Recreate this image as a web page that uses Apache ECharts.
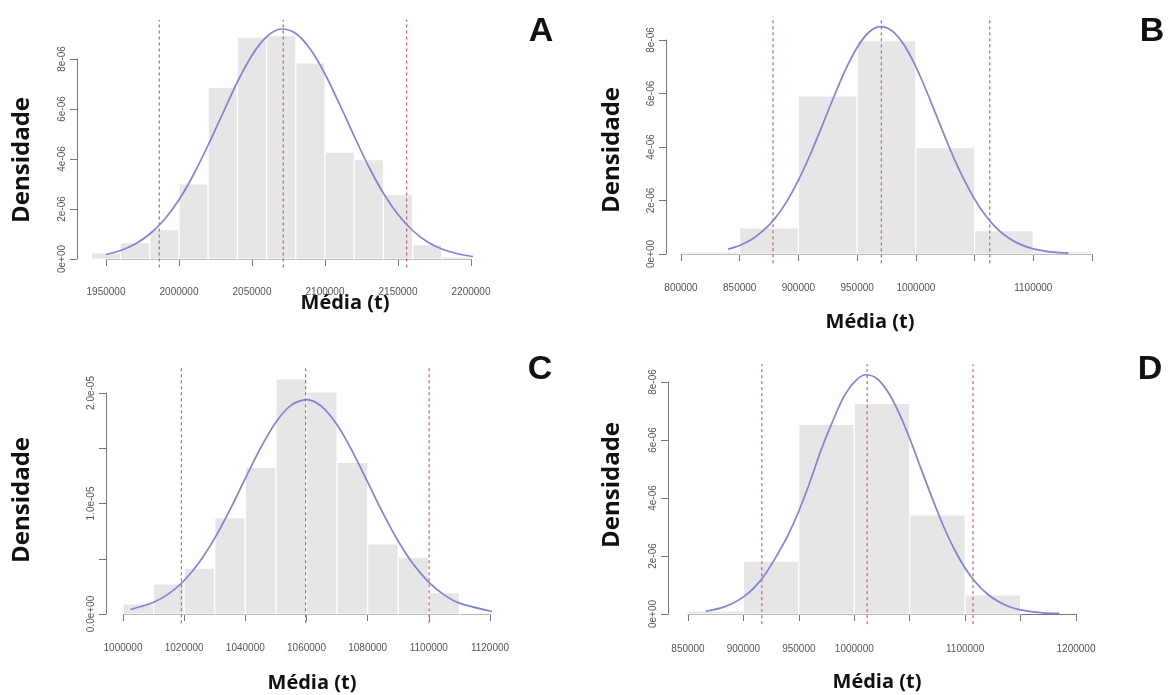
<!DOCTYPE html>
<html style="height: 100%">
<head>
    <meta charset="utf-8">
</head>
<body style="height: 100%; margin: 0; background: #fff">
    <div id="container" style="width: 1172px; height: 695px"></div>
    <script src="https://cdn.jsdelivr.net/npm/echarts@6.0.0/dist/echarts.min.js"></script>
    <script type="text/javascript">
        // ---- data ----
        // histogram bin edges and densities (A)
        var breaksA = [1940000, 1960000, 1980000, 2000000, 2020000, 2040000, 2060000, 2080000, 2100000, 2120000, 2140000, 2160000, 2180000, 2200000];
        var densA = [0.24e-6, 0.65e-6, 1.17e-6, 3.0e-6, 6.87e-6, 8.87e-6, 8.93e-6, 7.84e-6, 4.27e-6, 3.97e-6, 2.57e-6, 0.57e-6, 0.08e-6];
        var curveXA = [1950000, 1960000, 1970000, 1980000, 1990000, 2000000, 2010000, 2020000, 2030000, 2040000, 2050000, 2060000, 2070000, 2080000, 2090000, 2100000, 2110000, 2120000, 2130000, 2140000, 2150000, 2160000, 2170000, 2180000, 2190000, 2200000, 2212000];
        var curveYA = [0.18e-6, 0.34e-6, 0.6e-6, 1.0e-6, 1.58e-6, 2.37e-6, 3.38e-6, 4.56e-6, 5.83e-6, 7.08e-6, 8.15e-6, 8.89e-6, 9.2e-6, 9.02e-6, 8.39e-6, 7.4e-6, 6.19e-6, 4.91e-6, 3.69e-6, 2.63e-6, 1.78e-6, 1.14e-6, 0.69e-6, 0.4e-6, 0.22e-6, 0.11e-6, 0.05e-6];
        var cutsA = [1986500, 2071400, 2155900];
        var xLabelsA = ['1950000', '2000000', '2050000', '2100000', '2150000', '2200000'];
        var yLabelsA = ['0e+00', '2e-06', '4e-06', '6e-06', '8e-06'];

        // (B)
        var breaksB = [800000, 850000, 900000, 950000, 1000000, 1050000, 1100000, 1150000];
        var densB = [0.08e-6, 0.98e-6, 5.91e-6, 7.98e-6, 3.98e-6, 0.87e-6, 0.09e-6];
        var curveXB = [840000, 850000, 860000, 870000, 880000, 890000, 900000, 910000, 920000, 930000, 940000, 950000, 960000, 970000, 980000, 990000, 1000000, 1010000, 1020000, 1030000, 1040000, 1050000, 1060000, 1070000, 1080000, 1090000, 1100000, 1110000, 1120000, 1130000];
        var curveYB = [0.18e-6, 0.32e-6, 0.54e-6, 0.87e-6, 1.33e-6, 1.96e-6, 2.76e-6, 3.71e-6, 4.77e-6, 5.86e-6, 6.88e-6, 7.72e-6, 8.29e-6, 8.5e-6, 8.33e-6, 7.81e-6, 7.0e-6, 5.99e-6, 4.9e-6, 3.83e-6, 2.87e-6, 2.05e-6, 1.4e-6, 0.91e-6, 0.57e-6, 0.34e-6, 0.19e-6, 0.11e-6, 0.06e-6, 0.03e-6];
        var cutsB = [878400, 970600, 1062900];
        var xLabelsB = ['800000', '850000', '900000', '950000', '1000000', '', '1100000', ''];
        var yLabelsB = ['0e+00', '2e-06', '4e-06', '6e-06', '8e-06'];

        // (C)
        var breaksC = [1000000, 1010000, 1020000, 1030000, 1040000, 1050000, 1060000, 1070000, 1080000, 1090000, 1100000, 1110000, 1120000];
        var densC = [0.91e-6, 2.72e-6, 4.14e-6, 8.73e-6, 13.29e-6, 21.27e-6, 20.09e-6, 13.72e-6, 6.34e-6, 5.14e-6, 1.93e-6, 0.12e-6];
        var curveXC = [1002500, 1010000, 1015000, 1020000, 1025000, 1030000, 1035000, 1040000, 1045000, 1050000, 1055000, 1060000, 1065000, 1070000, 1075000, 1080000, 1085000, 1090000, 1095000, 1100000, 1105000, 1110000, 1120000, 1122500];
        var curveYC = [0.41e-6, 1.06e-6, 1.84e-6, 3.03e-6, 4.7e-6, 6.86e-6, 9.45e-6, 12.28e-6, 15.03e-6, 17.36e-6, 18.9e-6, 19.4e-6, 18.77e-6, 17.12e-6, 14.72e-6, 11.94e-6, 9.13e-6, 6.58e-6, 4.47e-6, 2.86e-6, 1.73e-6, 0.98e-6, 0.27e-6, 0.19e-6];
        var cutsC = [1019100, 1059700, 1100100];
        var xLabelsC = ['1000000', '1020000', '1040000', '1060000', '1080000', '1100000', '1120000'];
        var yLabelsC = ['0.0e+00', '', '1.0e-05', '', '2.0e-05'];

        // (D)
        var breaksD = [850000, 900000, 950000, 1000000, 1050000, 1100000, 1150000];
        var densD = [0.11e-6, 1.82e-6, 6.54e-6, 7.26e-6, 3.42e-6, 0.66e-6];
        var curveXD = [866000, 870000, 880000, 890000, 900000, 910000, 920000, 930000, 940000, 950000, 960000, 970000, 980000, 990000, 1000000, 1010000, 1020000, 1030000, 1040000, 1050000, 1060000, 1070000, 1080000, 1090000, 1100000, 1110000, 1120000, 1130000, 1140000, 1150000, 1160000, 1170000, 1185000];
        var curveYD = [0.09e-6, 0.12e-6, 0.21e-6, 0.36e-6, 0.59e-6, 0.92e-6, 1.39e-6, 2.01e-6, 2.7e-6, 3.55e-6, 4.55e-6, 5.65e-6, 6.6e-6, 7.45e-6, 8.0e-6, 8.25e-6, 8.13e-6, 7.68e-6, 6.96e-6, 6.05e-6, 5.03e-6, 4.02e-6, 3.07e-6, 2.25e-6, 1.58e-6, 1.07e-6, 0.69e-6, 0.43e-6, 0.25e-6, 0.14e-6, 0.08e-6, 0.04e-6, 0.02e-6];
        var cutsD = [916600, 1011600, 1107100];
        var xLabelsD = ['850000', '900000', '950000', '1000000', '', '1100000', '', '1200000'];
        var yLabelsD = ['0e+00', '2e-06', '4e-06', '6e-06', '8e-06'];

        // ---- layout of the 4 panels ----
        var panels = [
            { letter: 'A', breaks: breaksA, dens: densA, cx: curveXA, cy: curveYA, cuts: cutsA, xl: xLabelsA, yl: yLabelsA,
              grid: { left: 106, top: 59, width: 365, height: 200 }, xMin: 1950000, xMax: 2200000, xInt: 50000, yMax: 8e-6, yInt: 2e-6,
              xOff: 8, yOff: 29, dash: [-0.34e-6, 9.57e-6],
              yTitle: [22, 160], xTitle: [345, 303], tag: [541, 32] },
            { letter: 'B', breaks: breaksB, dens: densB, cx: curveXB, cy: curveYB, cuts: cutsB, xl: xLabelsB, yl: yLabelsB,
              grid: { left: 681, top: 40, width: 411, height: 214 }, xMin: 800000, xMax: 1150000, xInt: 50000, yMax: 8e-6, yInt: 2e-6,
              xOff: 9, yOff: 15, dash: [-0.35e-6, 8.87e-6],
              yTitle: [612, 150], xTitle: [870, 322], tag: [1152, 32] },
            { letter: 'C', breaks: breaksC, dens: densC, cx: curveXC, cy: curveYC, cuts: cutsC, xl: xLabelsC, yl: yLabelsC,
              grid: { left: 123, top: 393, width: 367, height: 221 }, xMin: 1000000, xMax: 1120000, xInt: 20000, yMax: 2e-5, yInt: 5e-6,
              xOff: 9, yOff: 17, dash: [-0.84e-6, 22.27e-6],
              yTitle: [22, 500], xTitle: [312, 683], tag: [540, 370] },
            { letter: 'D', breaks: breaksD, dens: densD, cx: curveXD, cy: curveYD, cuts: cutsD, xl: xLabelsD, yl: yLabelsD,
              grid: { left: 688, top: 382, width: 388, height: 232 }, xMin: 850000, xMax: 1200000, xInt: 50000, yMax: 8e-6, yInt: 2e-6,
              xOff: 10, yOff: 20, dash: [-0.35e-6, 8.61e-6],
              yTitle: [612, 485], xTitle: [877, 682], tag: [1150, 370] }
        ];

        var axisGray = '#777777';
        var labelFont = 'Liberation Sans, Arial, sans-serif';
        var titleFont = 'Open Sans, Liberation Sans, sans-serif';

        var dom = document.getElementById('container');
        var myChart = echarts.init(dom, null, { renderer: 'canvas' });

        var grids = [], xAxes = [], yAxes = [], series = [], graphics = [];

        panels.forEach(function (p, i) {
            grids.push({ left: p.grid.left, top: p.grid.top, width: p.grid.width, height: p.grid.height, containLabel: false, outerBoundsMode: 'none' });

            xAxes.push({
                type: 'value', gridIndex: i, min: p.xMin, max: p.xMax, interval: p.xInt, offset: p.xOff,
                splitLine: { show: false },
                axisLine: { show: true, lineStyle: { color: axisGray, width: 1 } },
                axisTick: { show: true, length: 7, lineStyle: { color: axisGray } },
                axisLabel: {
                    show: true, margin: 20, color: '#555', fontSize: 10, fontFamily: labelFont,
                    showMinLabel: true, showMaxLabel: true, hideOverlap: false,
                    formatter: (function (lbls, mn, step) {
                        return function (v) { return lbls[Math.round((v - mn) / step)] || ''; };
                    })(p.xl, p.xMin, p.xInt)
                }
            });

            yAxes.push({
                type: 'value', gridIndex: i, min: 0, max: p.yMax, interval: p.yInt, offset: p.yOff,
                splitLine: { show: false },
                axisLine: { show: true, lineStyle: { color: axisGray, width: 1 } },
                axisTick: { show: true, length: 7, lineStyle: { color: axisGray } },
                axisLabel: {
                    show: true, rotate: 90, margin: 10, color: '#555', fontSize: 10, fontFamily: labelFont,
                    showMinLabel: true, showMaxLabel: true, hideOverlap: false,
                    formatter: (function (lbls, step) {
                        return function (v) { return lbls[Math.round(v / step)] || ''; };
                    })(p.yl, p.yInt)
                }
            });

            // histogram bars
            var bars = [];
            for (var k = 0; k < p.dens.length; k++) {
                bars.push([p.breaks[k], p.breaks[k + 1], p.dens[k]]);
            }
            series.push({
                type: 'custom', xAxisIndex: i, yAxisIndex: i, clip: false, silent: true,
                data: bars,
                encode: { x: [0, 1], y: 2 },
                renderItem: function (params, api) {
                    var a = api.coord([api.value(0), api.value(2)]);
                    var b = api.coord([api.value(1), 0]);
                    return {
                        type: 'rect',
                        shape: { x: a[0], y: a[1], width: b[0] - a[0], height: b[1] - a[1] },
                        style: { fill: '#e6e6e6', stroke: '#ffffff', lineWidth: 1.2 }
                    };
                }
            });

            // dashed reference lines
            p.cuts.forEach(function (c) {
                series.push({
                    type: 'line', xAxisIndex: i, yAxisIndex: i, clip: false, silent: true,
                    showSymbol: false, symbol: 'none',
                    data: [[c, p.dash[0]], [c, p.dash[1]]],
                    lineStyle: { color: '#c46464', width: 1.2, type: [3, 3] },
                    z: 3
                });
            });

            // normal density curve
            series.push({
                type: 'line', xAxisIndex: i, yAxisIndex: i, clip: false, silent: true,
                smooth: 0.3, showSymbol: false, symbol: 'none',
                data: p.cx.map(function (x, j) { return [x, p.cy[j]]; }),
                lineStyle: { color: '#8282d8', width: 1.7 },
                z: 4
            });

            graphics.push({
                type: 'text', x: p.yTitle[0], y: p.yTitle[1], rotation: Math.PI / 2,
                style: { text: 'Densidade', font: 'bold 24px ' + titleFont, fill: '#111', align: 'center', verticalAlign: 'middle' }
            });
            graphics.push({
                type: 'text', x: p.xTitle[0], y: p.xTitle[1],
                style: { text: 'Média (t)', font: 'bold 20px ' + titleFont, fill: '#111', align: 'center', verticalAlign: 'middle' }
            });
            graphics.push({
                type: 'text', x: p.tag[0], y: p.tag[1],
                style: { text: p.letter, font: 'bold 34px ' + labelFont, fill: '#111', align: 'center', verticalAlign: 'middle' }
            });
        });

        var option = {
            backgroundColor: '#ffffff',
            animation: false,
            grid: grids,
            xAxis: xAxes,
            yAxis: yAxes,
            series: series,
            graphic: graphics
        };

        myChart.setOption(option);
    </script>
</body>
</html>
